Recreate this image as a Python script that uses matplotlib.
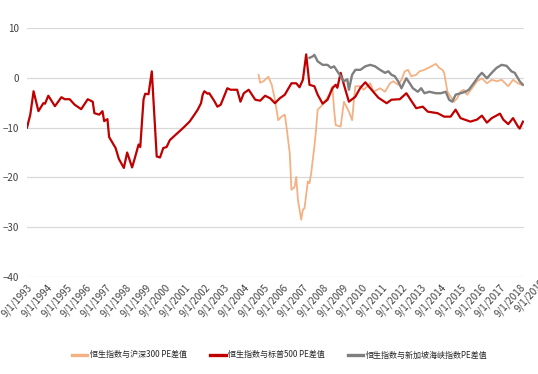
import pandas as pd
import matplotlib
matplotlib.use("Agg")
import matplotlib.pyplot as plt
import matplotlib.dates as mdates

plt.rcParams['font.family'] = ['Liberation Sans Narrow', 'Noto Sans CJK SC', 'DejaVu Sans']

# 恒生指数与标普500 PE差值
red_dates = ["1993-09", "1993-11", "1994-01", "1994-04", "1994-07", "1994-08", "1994-10",
             "1995-02", "1995-06", "1995-08", "1995-11", "1996-02", "1996-06", "1996-10",
             "1997-01", "1997-02", "1997-05", "1997-07", "1997-08", "1997-10", "1997-11",
             "1998-03", "1998-05", "1998-08", "1998-10", "1999-01", "1999-03", "1999-05",
             "1999-06", "1999-08", "1999-09", "1999-11", "2000-01", "2000-04", "2000-06",
             "2000-08", "2000-10", "2000-12", "2001-04", "2001-08", "2001-12", "2002-03",
             "2002-05", "2002-07", "2002-08", "2002-09", "2002-11", "2002-12", "2003-03",
             "2003-05", "2003-07", "2003-11", "2004-01", "2004-05", "2004-07", "2004-09",
             "2004-12", "2005-04", "2005-07", "2005-10", "2006-01", "2006-04", "2006-07",
             "2006-10", "2007-02", "2007-05", "2007-07", "2007-09", "2007-11", "2008-01",
             "2008-04", "2008-06", "2008-09", "2008-12", "2009-03", "2009-05", "2009-06",
             "2009-08", "2009-10", "2010-01", "2010-05", "2010-08", "2010-11", "2011-02",
             "2011-07", "2011-12", "2012-03", "2012-08", "2012-12", "2013-03", "2013-06",
             "2013-10", "2014-01", "2014-07", "2014-11", "2015-03", "2015-06", "2015-09",
             "2016-03", "2016-07", "2016-10", "2017-01", "2017-04", "2017-09", "2017-11",
             "2018-02", "2018-05", "2018-08", "2018-09", "2018-11"]
red_vals = [-10, -7.4, -2.7, -6.7, -5.1, -5.2, -3.6,
            -5.7, -3.9, -4.3, -4.3, -5.4, -6.3, -4.3,
            -4.8, -7.1, -7.4, -6.7, -8.7, -8.3, -11.9,
            -14.1, -16.3, -18.1, -15.0, -18.0, -15.8, -13.4,
            -13.9, -4.3, -3.2, -3.3, 1.3, -15.8, -16.0,
            -14.1, -13.9, -12.5, -11.3, -10.1, -8.8, -7.4,
            -6.4, -5.1, -3.4, -2.7, -3.2, -3.1, -4.6,
            -5.8, -5.4, -2.1, -2.4, -2.4, -4.8, -3.1,
            -2.4, -4.4, -4.6, -3.6, -4.1, -5.1, -4.1,
            -3.4, -1.1, -1.1, -1.9, -0.4, 4.7, -1.4,
            -1.7, -3.4, -5.2, -4.4, -2.1, -1.4, -2.0,
            1.0, -1.4, -4.8, -3.8, -2.0, -0.9, -2.1,
            -4.0, -5.1, -4.4, -4.3, -3.1, -4.6, -6.1,
            -5.8, -6.8, -7.1, -7.8, -7.8, -6.4, -8.1,
            -8.8, -8.4, -7.6, -9.0, -8.1, -7.2, -8.4,
            -9.3, -8.1, -9.8, -10.2, -8.8]

# 恒生指数与沪深300 PE差值
orange_dates = ["2005-06", "2005-07", "2005-09", "2005-11", "2005-12", "2006-02", "2006-04",
                "2006-06", "2006-08", "2006-10", "2006-11", "2007-01", "2007-02", "2007-04",
                "2007-05", "2007-06", "2007-08", "2007-09", "2007-10", "2007-12", "2008-01",
                "2008-02", "2008-04", "2008-05", "2008-06", "2008-09", "2008-11", "2009-01",
                "2009-03", "2009-04", "2009-05", "2009-08", "2009-10", "2010-01", "2010-03",
                "2010-04", "2010-05", "2010-08", "2010-10", "2011-02", "2011-04", "2011-08",
                "2011-11", "2012-02", "2012-04", "2012-07", "2012-09", "2012-11", "2013-01",
                "2013-03", "2013-06", "2013-08", "2013-11", "2014-02", "2014-06", "2014-08",
                "2014-10", "2014-11", "2015-01", "2015-03", "2015-05", "2015-07", "2015-09",
                "2015-11", "2016-01", "2016-04", "2016-07", "2016-10", "2017-01", "2017-04",
                "2017-07", "2017-10", "2018-02", "2018-05", "2018-08", "2018-10"]
orange_vals = [0.6, -1.0, -0.7, -0.1, 0.2, -1.4, -4.4,
               -8.5, -7.8, -7.4, -9.8, -15.2, -22.5, -21.9,
               -19.9, -24.5, -28.5, -26.5, -26.2, -20.8, -21.2,
               -19.2, -13.8, -10.5, -6.4, -5.4, -4.4, -3.4,
               -1.7, -6.4, -9.5, -9.8, -4.8, -6.8, -8.5,
               -4.8, -1.7, -1.7, -2.4, -1.1, -2.8, -2.1,
               -2.8, -1.1, -0.7, -1.4, -0.4, 1.3, 1.6,
               0.3, 0.6, 1.3, 1.6, 2.1, 2.8, 2.0,
               1.6, 1.0, -2.8, -3.8, -4.8, -4.1, -2.8,
               -2.4, -3.4, -2.1, -0.7, -0.1, -1.1, -0.4,
               -0.7, -0.4, -1.7, -0.4, -1.1, -1.4]

# 恒生指数与新加坡海峡指数PE差值
gray_dates = ["2008-01", "2008-03", "2008-04", "2008-06", "2008-09", "2008-12", "2009-02",
              "2009-04", "2009-06", "2009-08", "2009-10", "2009-12", "2010-01", "2010-03",
              "2010-05", "2010-08", "2010-11", "2011-02", "2011-05", "2011-08", "2011-11",
              "2012-01", "2012-03", "2012-05", "2012-07", "2012-09", "2012-11", "2012-12",
              "2013-02", "2013-04", "2013-07", "2013-09", "2013-11", "2014-02", "2014-06",
              "2014-09", "2014-12", "2015-02", "2015-04", "2015-06", "2015-09", "2015-12",
              "2016-02", "2016-05", "2016-08", "2016-10", "2017-01", "2017-04", "2017-07",
              "2017-10", "2018-01", "2018-04", "2018-06", "2018-08", "2018-09", "2018-11"]
gray_vals = [4.0, 4.3, 4.6, 3.3, 2.6, 2.6, 2.0,
             2.3, 1.3, 0.3, -0.7, -0.3, -2.4, 0.6,
             1.6, 1.6, 2.3, 2.6, 2.3, 1.6, 1.0,
             1.3, 0.6, 0.3, -0.7, -2.1, -0.7, -0.1,
             -1.1, -2.1, -2.8, -2.1, -3.1, -2.8, -3.1,
             -3.1, -2.8, -4.4, -4.8, -3.4, -3.1, -2.8,
             -2.4, -1.1, 0.3, 1.0, -0.1, 1.0, 2.0,
             2.6, 2.4, 1.3, 1.0, -0.1, -0.7, -1.4]

labels = ["恒生指数与沪深300 PE差值", "恒生指数与标普500 PE差值", "恒生指数与新加坡海峡指数PE差值"]
tick_years = list(range(1993, 2020))

fig = plt.figure(figsize=(5.38, 3.74), dpi=100)
ax = fig.add_axes([27 / 538, 1 - 277 / 374, (524 - 27) / 538, (277 - 28) / 374])

l1, = ax.plot(pd.to_datetime(orange_dates), orange_vals, color="#F4B183", lw=1.3)
l2, = ax.plot(pd.to_datetime(red_dates), red_vals, color="#C00000", lw=1.6)
l3, = ax.plot(pd.to_datetime(gray_dates), gray_vals, color="#7F7F7F", lw=1.7)

ax.set_ylim(-40, 10)
ax.set_yticks([10, 0, -10, -20, -30, -40])
ax.set_xlim(pd.Timestamp("1993-09-01"), pd.Timestamp("2018-11-20"))
ticks = [pd.Timestamp(f"{y}-09-01") for y in tick_years]
ax.set_xticks(ticks[:-1])
ax.set_xticklabels([f"9/1/{y}" for y in tick_years[:-1]], rotation=48, ha="right",
                   va="top", rotation_mode="anchor")
# last label sits past the plot edge, cut by the figure border as in the source
ax.text(mdates.date2num(ticks[-1]), -40, f"9/1/{tick_years[-1]}", rotation=48, ha="right",
        va="top", rotation_mode="anchor", fontsize=7, color="#404040", clip_on=False,
        transform=ax.transData)

ax.grid(axis="y", color="#D9D9D9", lw=0.9)
ax.set_axisbelow(True)
for s in ax.spines.values():
    s.set_visible(False)
ax.tick_params(axis="both", length=0, labelsize=7, labelcolor="#404040")
ax.tick_params(axis="x", pad=4)
ax.tick_params(axis="y", pad=6)

leg = fig.legend([l1, l2, l3], labels, loc="center", bbox_to_anchor=(0.52, 0.051), ncol=3,
                 frameon=False, handlelength=1.9, columnspacing=2.9, handletextpad=0.3,
                 prop={"family": ["Noto Sans CJK SC", "DejaVu Sans"], "size": 5.8})
for h in leg.legend_handles:
    h.set_linewidth(2.4)
for t in leg.get_texts():
    t.set_color("#262626")

fig.savefig("out.png", dpi=100)
